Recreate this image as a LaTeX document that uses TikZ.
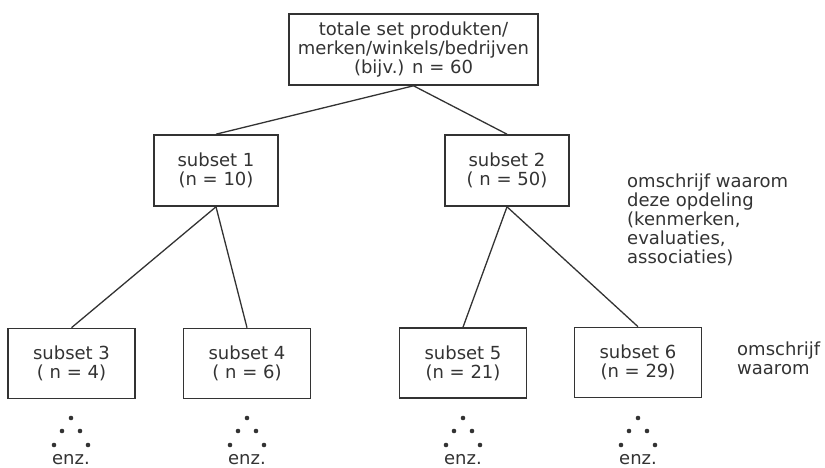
\documentclass[tikz,border=0pt]{standalone}
\usepackage{fontspec}
\newfontfamily\diagfont{DejaVu Sans}
\definecolor{ink}{gray}{0.2}
\tikzset{
  txt/.style={font=\diagfont\fontsize{18}{19}\selectfont, text=ink, inner sep=0pt},
  box/.style={txt, draw=ink, line width=1.6pt, align=center, minimum height=71pt},
  topbox/.style={box, minimum width=249pt},
  midbox/.style={box, minimum width=124pt},
  lowbox/.style={box, minimum width=127pt, minimum height=70pt},
  link/.style={draw=ink, line width=1.3pt},
  dot/.style={circle, fill=ink, inner sep=0pt, minimum size=4.6pt},
  note/.style={txt, align=left, anchor=north west}
}
\newcommand{\dotgroup}[2]{%
  \node[dot] (#2a) at (#1,418) {};
  \node[dot] (#2b) at (#1-9,431) {};
  \node[dot] (#2c) at (#1+9,431) {};
  \node[dot] (#2d) at (#1-17,445) {};
  \node[dot] (#2e) at (#1+17,445) {};
  \node[txt] (#2f) at (#1,459.5) {enz.};
}
\begin{document}
\begin{tikzpicture}[x=1pt,y=-1pt]
\useasboundingbox (0,0) rectangle (825,468);
\node[topbox] (top) at (413.5,49.5) {totale set produkten/\\merken/winkels/bedrijven\\(bijv.) n = 60};
\node[midbox] (s1) at (216,170.5) {subset 1\\(n = 10)};
\node[midbox] (s2) at (507,170.5) {subset 2\\( n = 50)};
\node[lowbox] (s3) at (71.5,363.5) {subset 3\\( n = 4)};
\node[lowbox] (s4) at (247,363.5) {subset 4\\( n = 6)};
\node[lowbox] (s5) at (463,363) {subset 5\\(n = 21)};
\node[lowbox] (s6) at (638,362.5) {subset 6\\(n = 29)};
\draw[link] (top.south) -- (s1.north);
\draw[link] (top.south) -- (s2.north);
\draw[link] (s1.south) -- (s3.north);
\draw[link] (s1.south) -- (s4.north);
\draw[link] (s2.south) -- (s5.north);
\draw[link] (s2.south) -- (s6.north);
\node[note] (n1) at (627,174) {omschrijf waarom\\deze opdeling\\(kenmerken,\\evaluaties,\\associaties)};
\node[note] (n2) at (737,342) {omschrijf\\waarom};
\dotgroup{71}{d3}
\dotgroup{247}{d4}
\dotgroup{463}{d5}
\dotgroup{638}{d6}
\end{tikzpicture}
\end{document}
